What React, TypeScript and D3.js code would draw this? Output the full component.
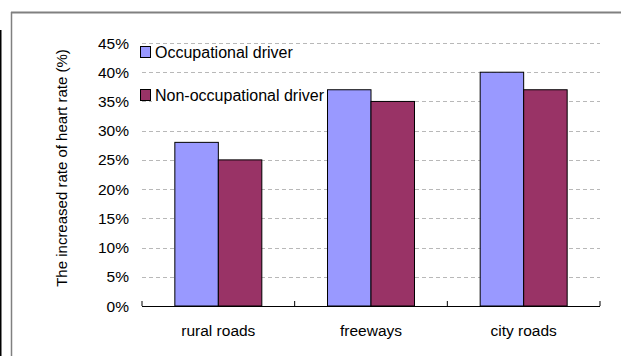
import React from "react";
import * as d3 from "d3";

// Chart data
const categories = ["rural roads", "freeways", "city roads"];
const seriesNames = ["Occupational driver", "Non-occupational driver"];
const occupational = [0.28, 0.37, 0.40];
const nonOccupational = [0.25, 0.35, 0.37];
const yTicks = [0, 0.05, 0.1, 0.15, 0.2, 0.25, 0.3, 0.35, 0.4, 0.45];
const yTitle = "The increased rate of heart rate (%)";

const colors = ["#9999FF", "#993366"];
const FONT = "Arial, 'Liberation Sans', sans-serif";

export default function App() {
  const W = 621;
  const H = 356;
  const left = 142;
  const right = 600;
  const top = 43;
  const bottom = 306;

  const x = d3.scaleBand<string>().domain(categories).range([left, right]).paddingInner(0).paddingOuter(0);
  const xs = d3
    .scaleBand<string>()
    .domain(seriesNames)
    .range([0, x.bandwidth()])
    .paddingInner(0)
    .paddingOuter(0.755);
  const y = d3.scaleLinear().domain([0, 0.45]).range([bottom, top]);
  const fmt = d3.format(".0%");

  const series = [occupational, nonOccupational];
  const boundaries = [...categories.map((c) => x(c) as number), right];

  return (
    <svg
      width={W}
      height={H}
      style={{ position: "absolute", left: 0, top: 0, background: "#fff" }}
      fontFamily={FONT}
    >
      <rect x={0} y={0} width={W} height={H} fill="#fff" />
      {/* outer frame */}
      <line x1={0.5} x2={0.5} y1={30} y2={H} stroke="#000" strokeWidth={2} />
      <line x1={11} x2={W} y1={12.5} y2={12.5} stroke="#808080" strokeWidth={2} />
      <line x1={11.5} x2={11.5} y1={12} y2={H} stroke="#808080" strokeWidth={1.5} />

      {/* gridlines */}
      {yTicks.slice(1).map((t) => (
        <line
          key={t}
          x1={left}
          x2={right}
          y1={Math.round(y(t)) + 0.5}
          y2={Math.round(y(t)) + 0.5}
          stroke="#b8b8b8"
          strokeDasharray="4,3"
          strokeWidth={1}
        />
      ))}

      {/* y tick labels */}
      {yTicks.map((t) => (
        <text
          key={t}
          x={129}
          y={y(t)}
          dy="0.36em"
          textAnchor="end"
          fontSize={15.5}
          fill="#000"
        >
          {fmt(t)}
        </text>
      ))}

      {/* y axis title */}
      <text
        transform={`translate(67,168) rotate(-90)`}
        textAnchor="middle"
        fontSize={15}
        fill="#000"
      >
        {yTitle}
      </text>

      {/* legend */}
      {seriesNames.map((s, i) => {
        const ly = 52 + i * 43;
        return (
          <g key={s}>
            <rect x={152} y={ly - 6} width={185} height={14} fill="#fff" />
            <rect x={140.5} y={ly - 5.5} width={10} height={11} fill={colors[i]} stroke="#000" strokeWidth={1} />
            <text x={155} y={ly + 5.5} fontSize={16} fill="#000">
              {s}
            </text>
          </g>
        );
      })}

      {/* bars */}
      {categories.map((c, ci) => (
        <g key={c}>
          {seriesNames.map((s, si) => {
            const v = series[si][ci];
            const bx = (x(c) as number) + (xs(s) as number);
            return (
              <rect
                key={s}
                x={bx}
                y={y(v)}
                width={xs.bandwidth()}
                height={bottom - y(v)}
                fill={colors[si]}
                stroke="#000"
                strokeWidth={1}
              />
            );
          })}
        </g>
      ))}

      {/* x axis */}
      <line x1={left} x2={right} y1={bottom + 0.5} y2={bottom + 0.5} stroke="#000" strokeWidth={1.2} />
      {boundaries.map((bx, i) => (
        <line key={i} x1={bx} x2={bx} y1={bottom - 5} y2={bottom} stroke="#000" strokeWidth={1} />
      ))}
      {categories.map((c) => (
        <text
          key={c}
          x={(x(c) as number) + x.bandwidth() / 2}
          y={336}
          textAnchor="middle"
          fontSize={15.5}
          fill="#000"
        >
          {c}
        </text>
      ))}
    </svg>
  );
}
